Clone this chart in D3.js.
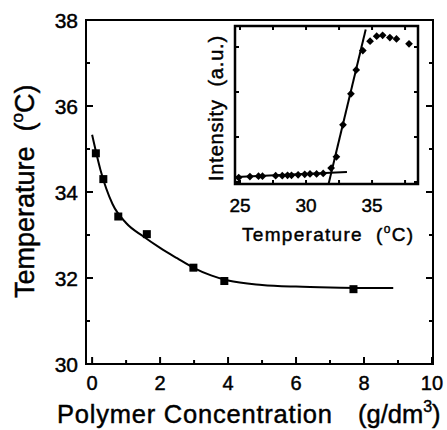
<!DOCTYPE html>
<html>
<head>
<meta charset="utf-8">
<script src="https://cdn.jsdelivr.net/npm/d3@7"></script>
<style>
  body { margin: 0; background: #fff; }
  svg { display: block; font-family: "Liberation Sans", Arial, sans-serif; }
  text { white-space: pre; }
  .bold { stroke: #000; stroke-width: 0.45px; }
</style>
</head>
<body>
<div id="chart"></div>
<script>
// main plot: cloud point vs concentration
const concentration = [0.11, 0.33, 0.77, 1.61, 2.98, 3.89, 7.69];
const transitionTemp = [34.90, 34.30, 33.43, 33.02, 32.24, 31.93, 31.74];
// fitted curve
const fitConc = [0.0, 0.25, 0.6, 1.0, 1.5, 2.0, 2.5, 3.0, 3.5, 4.0, 5.0, 6.0, 7.0, 8.0, 8.86];
const fitTemp = [35.33, 34.50, 33.72, 33.28, 32.97, 32.70, 32.46, 32.23, 32.06, 31.94, 31.84, 31.80, 31.78, 31.77, 31.77];
const mainXTicks = [0, 2, 4, 6, 8, 10];
const mainYTicks = [30, 32, 34, 36, 38];

// inset: intensity vs temperature
const insetTemp = [24.9, 25.75, 26.4, 26.7, 27.7, 28.2, 28.6, 28.9, 29.4, 29.9, 30.3, 30.8, 31.3,
  31.9, 32.3, 32.8, 33.4, 33.8, 34.3, 34.85, 35.35, 35.8, 36.35, 36.85, 37.8];
const insetIntensity = [0.10, 0.12, 0.13, 0.13, 0.14, 0.14, 0.15, 0.15, 0.16, 0.17, 0.18, 0.18, 0.19,
  0.31, 0.56, 1.27, 1.96, 2.49, 2.92, 3.13, 3.24, 3.26, 3.21, 3.18, 3.07];
const baseLineT = [24.7, 33.1];
const baseLineI = [0.11, 0.22];
const riseLineT = [31.71, 34.52];
const riseLineI = [-0.04, 3.39];
const insetXTicks = [25, 30, 35];

const W = 447, H = 430;
const svg = d3.select('#chart').append('svg').attr('width', W).attr('height', H);

const x = d3.scaleLinear().domain([-0.18, 10.03]).range([86, 433]);
const y = d3.scaleLinear().domain([30, 38]).range([364, 20]);

// ticks, inward
function ticksY(xPos, dir) {
  d3.range(30, 38.01, 1).forEach(function(v) {
    let len = v % 2 == 0 ? 7 : 4;
    svg.append('line').attr('x1', xPos).attr('x2', xPos + dir * len)
      .attr('y1', y(v)).attr('y2', y(v)).attr('stroke', '#000').attr('stroke-width', 2);
  });
}
ticksY(x.range()[0], 1);
ticksY(x.range()[1], -1);
d3.range(0, 10.01, 1).forEach(function(v) {
  let len = v % 2 == 0 ? 7 : 4;
  svg.append('line').attr('x1', x(v)).attr('x2', x(v))
    .attr('y1', y(30)).attr('y2', y(30) - len).attr('stroke', '#000').attr('stroke-width', 2);
});

svg.append('rect')
  .attr('x', x.range()[0]).attr('y', y(38))
  .attr('width', x.range()[1] - x.range()[0]).attr('height', y(30) - y(38))
  .attr('fill', 'none').attr('stroke', '#000').attr('stroke-width', 2);

svg.selectAll('.xlab').data(mainXTicks).enter().append('text')
  .attr('class', 'bold')
  .attr('x', function(d) { return x(d); }).attr('y', 390)
  .attr('text-anchor', 'middle').attr('font-size', 20).text(function(d) { return d; });
svg.selectAll('.ylab').data(mainYTicks).enter().append('text')
  .attr('class', 'bold')
  .attr('x', 78).attr('y', function(d) { return y(d) + 7.5; })
  .attr('text-anchor', 'end').attr('font-size', 21).text(function(d) { return d; });

// axis titles
let xt = svg.append('text').attr('class', 'bold').attr('x', 57).attr('y', 423).attr('font-size', 25.5);
xt.append('tspan').attr('textLength', 275).text('Polymer Concentration');
xt.append('tspan').attr('x', 358).text('(g/dm');
xt.append('tspan').attr('font-size', 16).attr('dy', -11).text('3');
xt.append('tspan').attr('dy', 11).text(')');

let yt = svg.append('text').attr('class', 'bold').attr('transform', 'translate(34,298) rotate(-90)').attr('font-size', 27);
yt.append('tspan').text('Temperature  (');
yt.append('tspan').attr('font-size', 17).attr('dy', -11).text('o');
yt.append('tspan').attr('dy', 11).text('C)');

// fit curve + squares
let line = d3.line().x(function(d) { return x(d[0]); }).y(function(d) { return y(d[1]); })
  .curve(d3.curveMonotoneX);
svg.append('path').datum(d3.zip(fitConc, fitTemp)).attr('d', line)
  .attr('fill', 'none').attr('stroke', '#000').attr('stroke-width', 2);
svg.selectAll('.sq').data(d3.zip(concentration, transitionTemp)).enter().append('rect')
  .attr('x', function(d) { return x(d[0]) - 4; }).attr('y', function(d) { return y(d[1]) - 4; })
  .attr('width', 8).attr('height', 8).attr('fill', '#000');

// ---- inset ----
const ix = d3.scaleLinear().domain([24.62, 38.48]).range([235, 418]);
const iy = d3.scaleLinear().domain([-0.044, 3.467]).range([184, 26]);
const inset = svg.append('g');

inset.append('rect').attr('x', 235).attr('y', 26).attr('width', 183).attr('height', 158).attr('fill', '#fff');

let clipId = 'insetclip';
svg.append('clipPath').attr('id', clipId).append('rect')
  .attr('x', ix.range()[0]).attr('y', iy.range()[1])
  .attr('width', ix.range()[1] - ix.range()[0]).attr('height', iy.range()[0] - iy.range()[1]);

d3.range(25, 38.6, 2.5).forEach(function(v) {
  [[iy.range()[0], -1], [iy.range()[1], 1]].forEach(function(p) {
    inset.append('line').attr('x1', ix(v)).attr('x2', ix(v))
      .attr('y1', p[0]).attr('y2', p[0] + p[1] * 4).attr('stroke', '#000').attr('stroke-width', 2);
  });
});
d3.range(0, 3.01, 1).forEach(function(v) {
  [[ix.range()[0], 1], [ix.range()[1], -1]].forEach(function(p) {
    inset.append('line').attr('x1', p[0]).attr('x2', p[0] + p[1] * 4)
      .attr('y1', iy(v)).attr('y2', iy(v)).attr('stroke', '#000').attr('stroke-width', 2);
  });
});

let iline = d3.line().x(function(d) { return ix(d[0]); }).y(function(d) { return iy(d[1]); });
inset.append('path').datum(d3.zip(baseLineT, baseLineI)).attr('d', iline)
  .attr('clip-path', 'url(#' + clipId + ')')
  .attr('fill', 'none').attr('stroke', '#000').attr('stroke-width', 2);
inset.append('path').datum(d3.zip(riseLineT, riseLineI)).attr('d', iline)
  .attr('clip-path', 'url(#' + clipId + ')')
  .attr('fill', 'none').attr('stroke', '#000').attr('stroke-width', 2);

inset.selectAll('.dia').data(d3.zip(insetTemp, insetIntensity)).enter().append('path')
  .attr('d', d3.symbol().type(d3.symbolDiamond2).size(38))
  .attr('transform', function(d) { return 'translate(' + ix(d[0]) + ',' + iy(d[1]) + ')'; })
  .attr('fill', '#000');

inset.append('rect').attr('x', 235).attr('y', 26).attr('width', 183).attr('height', 158)
  .attr('fill', 'none').attr('stroke', '#000').attr('stroke-width', 2.5);

inset.selectAll('.ixlab').data(insetXTicks).enter().append('text')
  .attr('class', 'bold')
  .attr('x', function(d) { return ix(d); }).attr('y', 212)
  .attr('text-anchor', 'middle').attr('font-size', 19).text(function(d) { return d; });

let it = inset.append('text').attr('class', 'bold').attr('x', 242).attr('y', 241)
  .attr('font-size', 19).attr('letter-spacing', 1.3);
it.append('tspan').text('Temperature  (');
it.append('tspan').attr('font-size', 12).attr('dy', -8).text('o');
it.append('tspan').attr('dy', 8).text('C)');

let iyt = inset.append('text').attr('class', 'bold').attr('transform', 'translate(223,181) rotate(-90)')
  .attr('font-size', 20).attr('letter-spacing', 0.8);
iyt.append('tspan').text('Intensity  (a.u.)');
</script>
</body>
</html>
